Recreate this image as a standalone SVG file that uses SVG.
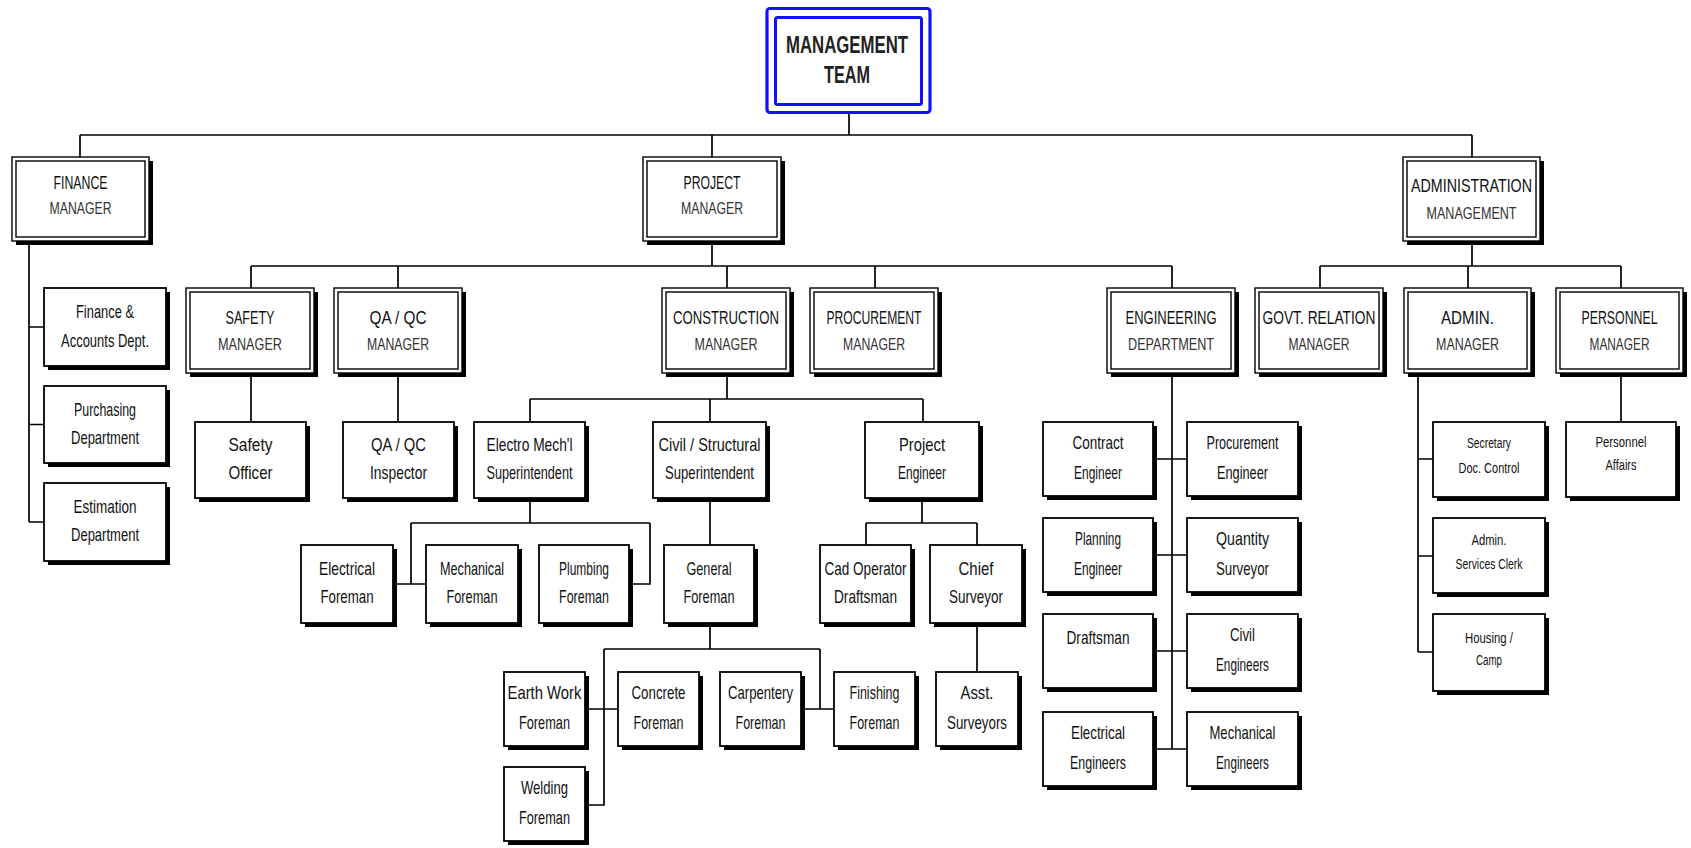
<svg xmlns="http://www.w3.org/2000/svg" width="1691" height="848" viewBox="0 0 1691 848">
<style>
.ln{stroke:#000;stroke-width:1.7;fill:none}
.sh{fill:#000}
.bx{fill:#fff;stroke:#000;stroke-width:1.8}
.ob{fill:#fff;stroke:#000;stroke-width:1.4}
.ib{fill:none;stroke:#000;stroke-width:1.4}
.t{font-family:"Liberation Sans",Arial,sans-serif;fill:#111;text-anchor:middle;font-size:19px}
.m1{font-family:"Liberation Sans",Arial,sans-serif;fill:#111;text-anchor:middle;font-size:18px}
.m2{font-family:"Liberation Sans",Arial,sans-serif;fill:#333;text-anchor:middle;font-size:17px}
.s{font-family:"Liberation Sans",Arial,sans-serif;fill:#111;text-anchor:middle;font-size:14px}
.mt{font-family:"Liberation Sans",Arial,sans-serif;fill:#222;text-anchor:middle;font-size:24px;font-weight:bold}
</style>
<rect width="1691" height="848" fill="#fff"/>
<g id="connectors">
<path class="ln" d="M849,113V135M80,135H1472M80,135V157M712,135V157M1472,135V157
M29,245V522M29,327H44M29,424.5H44M29,522H44
M712,245V266M251,266H1172M251,266V288M398,266V288M727,266V288M875,266V288M1172,266V288
M1472,245V266M1320,266H1621M1320,266V288M1468,266V288M1621,266V288
M251,377V422M398,377V422
M727,377V399M530,399H923M530,399V422M710,399V422M923,399V422
M530,502V523M411,523H650M411,523V584M393,584H426M650,523V584H629
M710,502V545
M710,627V649M604,649H820M604,649V805H585M585,709H618M820,649V709M801,709H834
M922,502V523M866,523H977M866,523V545M977,523V545M977,627V672
M1172,377V749M1153,459H1187M1153,555H1187M1153,651H1187M1153,749H1187
M1418,377V652M1418,459H1433M1418,556H1433M1418,652H1433
M1621,377V422"/>
</g>

<g id="management-team">
<rect x="767" y="8.5" width="163" height="104" rx="3" fill="#fff" stroke="#1010ff" stroke-width="3.2"/>
<rect x="775.5" y="17.5" width="146" height="87" rx="2" fill="none" stroke="#1010ff" stroke-width="3"/>
<text class="mt" x="847" y="53" textLength="122" lengthAdjust="spacingAndGlyphs">MANAGEMENT</text>
<text class="mt" x="847" y="83" textLength="46" lengthAdjust="spacingAndGlyphs">TEAM</text>
</g>

<g id="finance-manager">
<rect class="sh" x="16" y="161" width="137" height="84"/>
<rect class="ob" x="12" y="157" width="137" height="84"/>
<rect class="ib" x="16" y="161" width="129" height="76"/>
<text class="m1" x="80.5" y="188.5" textLength="54" lengthAdjust="spacingAndGlyphs">FINANCE</text>
<text class="m2" x="80.5" y="213.5" textLength="62" lengthAdjust="spacingAndGlyphs">MANAGER</text>
</g>
<g id="project-manager">
<rect class="sh" x="647" y="161" width="138" height="84"/>
<rect class="ob" x="643" y="157" width="138" height="84"/>
<rect class="ib" x="647" y="161" width="130" height="76"/>
<text class="m1" x="712" y="188.5" textLength="57" lengthAdjust="spacingAndGlyphs">PROJECT</text>
<text class="m2" x="712" y="213.5" textLength="62" lengthAdjust="spacingAndGlyphs">MANAGER</text>
</g>
<g id="administration-management">
<rect class="sh" x="1407" y="161" width="137" height="84"/>
<rect class="ob" x="1403" y="157" width="137" height="84"/>
<rect class="ib" x="1407" y="161" width="129" height="76"/>
<text class="m1" x="1471.5" y="191.5" textLength="121" lengthAdjust="spacingAndGlyphs">ADMINISTRATION</text>
<text class="m2" x="1471.5" y="218.5" textLength="90" lengthAdjust="spacingAndGlyphs">MANAGEMENT</text>
</g>

<g id="safety-manager">
<rect class="sh" x="190" y="292" width="128" height="85"/>
<rect class="ob" x="186" y="288" width="128" height="85"/>
<rect class="ib" x="190" y="292" width="120" height="77"/>
<text class="m1" x="250" y="324" textLength="49" lengthAdjust="spacingAndGlyphs">SAFETY</text>
<text class="m2" x="250" y="350" textLength="64" lengthAdjust="spacingAndGlyphs">MANAGER</text>
</g>
<g id="qaqc-manager">
<rect class="sh" x="338" y="292" width="128" height="85"/>
<rect class="ob" x="334" y="288" width="128" height="85"/>
<rect class="ib" x="338" y="292" width="120" height="77"/>
<text class="m1" x="398" y="324" textLength="57" lengthAdjust="spacingAndGlyphs">QA / QC</text>
<text class="m2" x="398" y="350" textLength="62" lengthAdjust="spacingAndGlyphs">MANAGER</text>
</g>
<g id="construction-manager">
<rect class="sh" x="666" y="292" width="128" height="85"/>
<rect class="ob" x="662" y="288" width="128" height="85"/>
<rect class="ib" x="666" y="292" width="120" height="77"/>
<text class="m1" x="726" y="324" textLength="106" lengthAdjust="spacingAndGlyphs">CONSTRUCTION</text>
<text class="m2" x="726" y="350" textLength="63" lengthAdjust="spacingAndGlyphs">MANAGER</text>
</g>
<g id="procurement-manager">
<rect class="sh" x="814" y="292" width="128" height="85"/>
<rect class="ob" x="810" y="288" width="128" height="85"/>
<rect class="ib" x="814" y="292" width="120" height="77"/>
<text class="m1" x="874" y="324" textLength="95" lengthAdjust="spacingAndGlyphs">PROCUREMENT</text>
<text class="m2" x="874" y="350" textLength="62" lengthAdjust="spacingAndGlyphs">MANAGER</text>
</g>
<g id="engineering-department">
<rect class="sh" x="1111" y="292" width="128" height="85"/>
<rect class="ob" x="1107" y="288" width="128" height="85"/>
<rect class="ib" x="1111" y="292" width="120" height="77"/>
<text class="m1" x="1171" y="324" textLength="91" lengthAdjust="spacingAndGlyphs">ENGINEERING</text>
<text class="m2" x="1171" y="350" textLength="86" lengthAdjust="spacingAndGlyphs">DEPARTMENT</text>
</g>
<g id="govt-relation-manager">
<rect class="sh" x="1259" y="292" width="128" height="85"/>
<rect class="ob" x="1255" y="288" width="128" height="85"/>
<rect class="ib" x="1259" y="292" width="120" height="77"/>
<text class="m1" x="1319" y="324" textLength="113" lengthAdjust="spacingAndGlyphs">GOVT. RELATION</text>
<text class="m2" x="1319" y="350" textLength="61" lengthAdjust="spacingAndGlyphs">MANAGER</text>
</g>
<g id="admin-manager">
<rect class="sh" x="1408" y="292" width="127" height="85"/>
<rect class="ob" x="1404" y="288" width="127" height="85"/>
<rect class="ib" x="1408" y="292" width="119" height="77"/>
<text class="m1" x="1467.5" y="324" textLength="53" lengthAdjust="spacingAndGlyphs">ADMIN.</text>
<text class="m2" x="1467.5" y="350" textLength="63" lengthAdjust="spacingAndGlyphs">MANAGER</text>
</g>
<g id="personnel-manager">
<rect class="sh" x="1560" y="292" width="127" height="85"/>
<rect class="ob" x="1556" y="288" width="127" height="85"/>
<rect class="ib" x="1560" y="292" width="119" height="77"/>
<text class="m1" x="1619.5" y="324" font-size="16" textLength="76" lengthAdjust="spacingAndGlyphs">PERSONNEL</text>
<text class="m2" x="1619.5" y="350" textLength="60" lengthAdjust="spacingAndGlyphs">MANAGER</text>
</g>

<g id="finance-accounts">
<rect class="sh" x="48" y="292" width="122" height="78"/>
<rect class="bx" x="44" y="288" width="122" height="78"/>
<text class="t" x="105" y="318" textLength="58" lengthAdjust="spacingAndGlyphs">Finance &amp;</text>
<text class="t" x="105" y="347" textLength="88" lengthAdjust="spacingAndGlyphs">Accounts Dept.</text>
</g>
<g id="purchasing-department">
<rect class="sh" x="48" y="390" width="122" height="77"/>
<rect class="bx" x="44" y="386" width="122" height="77"/>
<text class="t" x="105" y="416" textLength="62" lengthAdjust="spacingAndGlyphs">Purchasing</text>
<text class="t" x="105" y="444" textLength="68" lengthAdjust="spacingAndGlyphs">Department</text>
</g>
<g id="estimation-department">
<rect class="sh" x="48" y="487" width="122" height="78"/>
<rect class="bx" x="44" y="483" width="122" height="78"/>
<text class="t" x="105" y="513" textLength="63" lengthAdjust="spacingAndGlyphs">Estimation</text>
<text class="t" x="105" y="541" textLength="68" lengthAdjust="spacingAndGlyphs">Department</text>
</g>

<g id="safety-officer">
<rect class="sh" x="199" y="426" width="111" height="76"/>
<rect class="bx" x="195" y="422" width="111" height="76"/>
<text class="t" x="250.5" y="451" textLength="44" lengthAdjust="spacingAndGlyphs">Safety</text>
<text class="t" x="250.5" y="479" textLength="44" lengthAdjust="spacingAndGlyphs">Officer</text>
</g>
<g id="qaqc-inspector">
<rect class="sh" x="347" y="426" width="111" height="76"/>
<rect class="bx" x="343" y="422" width="111" height="76"/>
<text class="t" x="398.5" y="451" textLength="55" lengthAdjust="spacingAndGlyphs">QA / QC</text>
<text class="t" x="398.5" y="479" textLength="57" lengthAdjust="spacingAndGlyphs">Inspector</text>
</g>
<g id="electro-mech-superintendent">
<rect class="sh" x="478" y="426" width="111" height="76"/>
<rect class="bx" x="474" y="422" width="111" height="76"/>
<text class="t" x="529.5" y="451" textLength="86" lengthAdjust="spacingAndGlyphs">Electro Mech'l</text>
<text class="t" x="529.5" y="479" textLength="86" lengthAdjust="spacingAndGlyphs">Superintendent</text>
</g>
<g id="civil-structural-superintendent">
<rect class="sh" x="657" y="426" width="113" height="76"/>
<rect class="bx" x="653" y="422" width="113" height="76"/>
<text class="t" x="709.5" y="451" textLength="102" lengthAdjust="spacingAndGlyphs">Civil / Structural</text>
<text class="t" x="709.5" y="479" textLength="89" lengthAdjust="spacingAndGlyphs">Superintendent</text>
</g>
<g id="project-engineer">
<rect class="sh" x="869" y="426" width="114" height="76"/>
<rect class="bx" x="865" y="422" width="114" height="76"/>
<text class="t" x="922" y="451" textLength="46" lengthAdjust="spacingAndGlyphs">Project</text>
<text class="t" x="922" y="479" textLength="48" lengthAdjust="spacingAndGlyphs">Engineer</text>
</g>

<g id="electrical-foreman">
<rect class="sh" x="305" y="549" width="92" height="78"/>
<rect class="bx" x="301" y="545" width="92" height="78"/>
<text class="t" x="347" y="575" textLength="56" lengthAdjust="spacingAndGlyphs">Electrical</text>
<text class="t" x="347" y="603" textLength="53" lengthAdjust="spacingAndGlyphs">Foreman</text>
</g>
<g id="mechanical-foreman">
<rect class="sh" x="430" y="549" width="92" height="78"/>
<rect class="bx" x="426" y="545" width="92" height="78"/>
<text class="t" x="472" y="575" textLength="64" lengthAdjust="spacingAndGlyphs">Mechanical</text>
<text class="t" x="472" y="603" textLength="51" lengthAdjust="spacingAndGlyphs">Foreman</text>
</g>
<g id="plumbing-foreman">
<rect class="sh" x="543" y="549" width="90" height="78"/>
<rect class="bx" x="539" y="545" width="90" height="78"/>
<text class="t" x="584" y="575" textLength="50" lengthAdjust="spacingAndGlyphs">Plumbing</text>
<text class="t" x="584" y="603" textLength="50" lengthAdjust="spacingAndGlyphs">Foreman</text>
</g>
<g id="general-foreman">
<rect class="sh" x="668" y="549" width="90" height="78"/>
<rect class="bx" x="664" y="545" width="90" height="78"/>
<text class="t" x="709" y="575" textLength="45" lengthAdjust="spacingAndGlyphs">General</text>
<text class="t" x="709" y="603" textLength="51" lengthAdjust="spacingAndGlyphs">Foreman</text>
</g>
<g id="cad-operator-draftsman">
<rect class="sh" x="824" y="549" width="91" height="78"/>
<rect class="bx" x="820" y="545" width="91" height="78"/>
<text class="t" x="865.5" y="575" textLength="82" lengthAdjust="spacingAndGlyphs">Cad Operator</text>
<text class="t" x="865.5" y="603" textLength="63" lengthAdjust="spacingAndGlyphs">Draftsman</text>
</g>
<g id="chief-surveyor">
<rect class="sh" x="934" y="549" width="92" height="78"/>
<rect class="bx" x="930" y="545" width="92" height="78"/>
<text class="t" x="976" y="575" textLength="35" lengthAdjust="spacingAndGlyphs">Chief</text>
<text class="t" x="976" y="603" textLength="54" lengthAdjust="spacingAndGlyphs">Surveyor</text>
</g>

<g id="earth-work-foreman">
<rect class="sh" x="508" y="676" width="81" height="74"/>
<rect class="bx" x="504" y="672" width="81" height="74"/>
<text class="t" x="544.5" y="699" textLength="74" lengthAdjust="spacingAndGlyphs">Earth Work</text>
<text class="t" x="544.5" y="729" textLength="51" lengthAdjust="spacingAndGlyphs">Foreman</text>
</g>
<g id="concrete-foreman">
<rect class="sh" x="622" y="676" width="81" height="74"/>
<rect class="bx" x="618" y="672" width="81" height="74"/>
<text class="t" x="658.5" y="699" textLength="54" lengthAdjust="spacingAndGlyphs">Concrete</text>
<text class="t" x="658.5" y="729" textLength="50" lengthAdjust="spacingAndGlyphs">Foreman</text>
</g>
<g id="carpentery-foreman">
<rect class="sh" x="724" y="676" width="81" height="74"/>
<rect class="bx" x="720" y="672" width="81" height="74"/>
<text class="t" x="760.5" y="699" textLength="65" lengthAdjust="spacingAndGlyphs">Carpentery</text>
<text class="t" x="760.5" y="729" textLength="50" lengthAdjust="spacingAndGlyphs">Foreman</text>
</g>
<g id="finishing-foreman">
<rect class="sh" x="838" y="676" width="81" height="74"/>
<rect class="bx" x="834" y="672" width="81" height="74"/>
<text class="t" x="874.5" y="699" textLength="50" lengthAdjust="spacingAndGlyphs">Finishing</text>
<text class="t" x="874.5" y="729" textLength="50" lengthAdjust="spacingAndGlyphs">Foreman</text>
</g>
<g id="asst-surveyors">
<rect class="sh" x="940" y="676" width="82" height="74"/>
<rect class="bx" x="936" y="672" width="82" height="74"/>
<text class="t" x="977" y="699" textLength="33" lengthAdjust="spacingAndGlyphs">Asst.</text>
<text class="t" x="977" y="729" textLength="60" lengthAdjust="spacingAndGlyphs">Surveyors</text>
</g>
<g id="welding-foreman">
<rect class="sh" x="508" y="771" width="81" height="74"/>
<rect class="bx" x="504" y="767" width="81" height="74"/>
<text class="t" x="544.5" y="794" textLength="47" lengthAdjust="spacingAndGlyphs">Welding</text>
<text class="t" x="544.5" y="824" textLength="51" lengthAdjust="spacingAndGlyphs">Foreman</text>
</g>

<g id="contract-engineer">
<rect class="sh" x="1047" y="426" width="110" height="74"/>
<rect class="bx" x="1043" y="422" width="110" height="74"/>
<text class="t" x="1098" y="449" textLength="51" lengthAdjust="spacingAndGlyphs">Contract</text>
<text class="t" x="1098" y="479" textLength="48" lengthAdjust="spacingAndGlyphs">Engineer</text>
</g>
<g id="procurement-engineer">
<rect class="sh" x="1191" y="426" width="111" height="74"/>
<rect class="bx" x="1187" y="422" width="111" height="74"/>
<text class="t" x="1242.5" y="449" textLength="72" lengthAdjust="spacingAndGlyphs">Procurement</text>
<text class="t" x="1242.5" y="479" textLength="51" lengthAdjust="spacingAndGlyphs">Engineer</text>
</g>
<g id="planning-engineer">
<rect class="sh" x="1047" y="522" width="110" height="74"/>
<rect class="bx" x="1043" y="518" width="110" height="74"/>
<text class="t" x="1098" y="545" textLength="46" lengthAdjust="spacingAndGlyphs">Planning</text>
<text class="t" x="1098" y="575" textLength="48" lengthAdjust="spacingAndGlyphs">Engineer</text>
</g>
<g id="quantity-surveyor">
<rect class="sh" x="1191" y="522" width="111" height="74"/>
<rect class="bx" x="1187" y="518" width="111" height="74"/>
<text class="t" x="1242.5" y="545" textLength="53" lengthAdjust="spacingAndGlyphs">Quantity</text>
<text class="t" x="1242.5" y="575" textLength="53" lengthAdjust="spacingAndGlyphs">Surveyor</text>
</g>
<g id="draftsman">
<rect class="sh" x="1047" y="618" width="110" height="74"/>
<rect class="bx" x="1043" y="614" width="110" height="74"/>
<text class="t" x="1098" y="644" textLength="63" lengthAdjust="spacingAndGlyphs">Draftsman</text>
</g>
<g id="civil-engineers">
<rect class="sh" x="1191" y="618" width="111" height="74"/>
<rect class="bx" x="1187" y="614" width="111" height="74"/>
<text class="t" x="1242.5" y="641" textLength="25" lengthAdjust="spacingAndGlyphs">Civil</text>
<text class="t" x="1242.5" y="671" textLength="53" lengthAdjust="spacingAndGlyphs">Engineers</text>
</g>
<g id="electrical-engineers">
<rect class="sh" x="1047" y="716" width="110" height="74"/>
<rect class="bx" x="1043" y="712" width="110" height="74"/>
<text class="t" x="1098" y="739" textLength="54" lengthAdjust="spacingAndGlyphs">Electrical</text>
<text class="t" x="1098" y="769" textLength="56" lengthAdjust="spacingAndGlyphs">Engineers</text>
</g>
<g id="mechanical-engineers">
<rect class="sh" x="1191" y="716" width="111" height="74"/>
<rect class="bx" x="1187" y="712" width="111" height="74"/>
<text class="t" x="1242.5" y="739" textLength="66" lengthAdjust="spacingAndGlyphs">Mechanical</text>
<text class="t" x="1242.5" y="769" textLength="53" lengthAdjust="spacingAndGlyphs">Engineers</text>
</g>

<g id="secretary-doc-control">
<rect class="sh" x="1437" y="426" width="112" height="75"/>
<rect class="bx" x="1433" y="422" width="112" height="75"/>
<text class="s" x="1489" y="448" textLength="44" lengthAdjust="spacingAndGlyphs">Secretary</text>
<text class="s" x="1489" y="473" textLength="61" lengthAdjust="spacingAndGlyphs">Doc. Control</text>
</g>
<g id="admin-services-clerk">
<rect class="sh" x="1437" y="522" width="112" height="75"/>
<rect class="bx" x="1433" y="518" width="112" height="75"/>
<text class="s" x="1489" y="545" textLength="35" lengthAdjust="spacingAndGlyphs">Admin.</text>
<text class="s" x="1489" y="569" textLength="67" lengthAdjust="spacingAndGlyphs">Services Clerk</text>
</g>
<g id="housing-camp">
<rect class="sh" x="1437" y="618" width="112" height="77"/>
<rect class="bx" x="1433" y="614" width="112" height="77"/>
<text class="s" x="1489" y="643" textLength="48" lengthAdjust="spacingAndGlyphs">Housing /</text>
<text class="s" x="1489" y="665" textLength="26" lengthAdjust="spacingAndGlyphs">Camp</text>
</g>
<g id="personnel-affairs">
<rect class="sh" x="1570" y="426" width="110" height="75"/>
<rect class="bx" x="1566" y="422" width="110" height="75"/>
<text class="s" x="1621" y="447" textLength="51" lengthAdjust="spacingAndGlyphs">Personnel</text>
<text class="s" x="1621" y="470" textLength="31" lengthAdjust="spacingAndGlyphs">Affairs</text>
</g>
</svg>
